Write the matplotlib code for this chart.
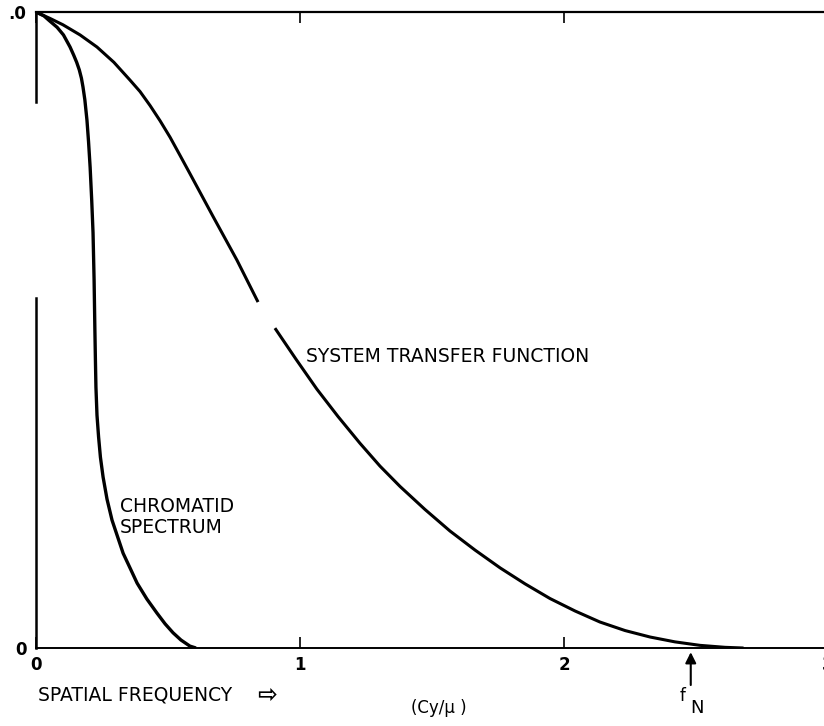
import numpy as np
import matplotlib
matplotlib.use('Agg')
import matplotlib.pyplot as plt

# system transfer function (nan = gap in the printed line)
stf_x = [0.0, 0.053, 0.102, 0.167, 0.231, 0.295, 0.356, 0.394, 0.432, 0.470,
         0.508, 0.545, 0.583, 0.670, 0.761, 0.841,
         np.nan,
         0.905, 0.985, 1.064, 1.144, 1.227, 1.303, 1.379, 1.473, 1.568, 1.663,
         1.758, 1.852, 1.947, 2.042, 2.136, 2.231, 2.326, 2.420, 2.515, 2.61,
         2.68]
stf_y = [1.0, 0.990, 0.980, 0.964, 0.945, 0.921, 0.893, 0.875, 0.853, 0.829,
         0.803, 0.775, 0.746, 0.679, 0.610, 0.544,
         np.nan,
         0.503, 0.454, 0.407, 0.364, 0.322, 0.286, 0.254, 0.218, 0.184, 0.154,
         0.126, 0.101, 0.0778, 0.0582, 0.0409, 0.0275, 0.0173, 0.0097, 0.0042, 0.0011,
         0.0]

# chromatid spectrum
chr_x = [0.0, 0.030, 0.049, 0.080, 0.104, 0.129, 0.143, 0.154, 0.164, 0.172,
         0.178, 0.185, 0.193, 0.199, 0.205, 0.211, 0.216, 0.220, 0.223, 0.225,
         0.227, 0.231, 0.237, 0.244, 0.254, 0.269, 0.288, 0.309, 0.330, 0.356,
         0.383, 0.420, 0.458, 0.489, 0.519, 0.549, 0.583, 0.606]
chr_y = [1.0, 0.994, 0.987, 0.976, 0.964, 0.945, 0.932, 0.921, 0.909, 0.896,
         0.882, 0.862, 0.830, 0.796, 0.756, 0.704, 0.653, 0.579, 0.500, 0.453,
         0.410, 0.366, 0.332, 0.300, 0.269, 0.234, 0.201, 0.175, 0.149, 0.126,
         0.102, 0.077, 0.055, 0.038, 0.024, 0.0126, 0.003, 0.0]

xticks = [0, 1, 2, 3]
xticklabels = ['0', '1', '2', '3']
yticks = [0, 1]
yticklabels = ['0', '.0']
f_nyquist = 2.48

fig = plt.figure(figsize=(8.24, 7.26), dpi=100)
ax = fig.add_axes([0.0437, 0.1074, 0.9612, 0.876])

ax.plot(stf_x, stf_y, color='black', lw=2.2, solid_capstyle='butt',
        solid_joinstyle='round')
ax.plot(chr_x, chr_y, color='black', lw=2.4, solid_capstyle='butt',
        solid_joinstyle='round')

ax.set_xlim(0, 3)
ax.set_ylim(0, 1)

for s in ['right', 'left']:
    ax.spines[s].set_visible(False)
ax.spines['top'].set_linewidth(1.6)
ax.spines['bottom'].set_linewidth(1.4)
# left axis line, broken in the original print
ax.axvline(0, ymin=0, ymax=0.55, color='black', lw=1.8, clip_on=False)
ax.axvline(0, ymin=0.858, ymax=1, color='black', lw=1.8, clip_on=False)

ax.set_xticks(xticks)
ax.set_xticklabels(xticklabels, fontsize=12, fontweight='bold')
ax.tick_params(axis='x', direction='in', length=8, width=1.2, top=True, pad=6)
ax.set_yticks(yticks)
ax.set_yticklabels(yticklabels, fontsize=12, fontweight='bold')
ax.tick_params(axis='y', length=0, pad=7)

ax.text(1.023, 0.45, 'SYSTEM TRANSFER FUNCTION', fontsize=13.5)
ax.text(0.317, 0.181, 'CHROMATID\nSPECTRUM', fontsize=13.5, linespacing=1.15)

fig.text(0.046, 0.0427, 'SPATIAL FREQUENCY', fontsize=13.5, va='center')
fig.text(0.312, 0.0427, '\u21e8', fontsize=17, va='center', fontweight='bold')
fig.text(0.533, 0.0248, '(Cy/\u03bc )', fontsize=12, va='center', ha='center')

# Nyquist frequency marker
ax.annotate('', xy=(f_nyquist, 0), xycoords='data',
            xytext=(0, -37), textcoords='offset pixels', annotation_clip=False,
            arrowprops=dict(arrowstyle='-|>', color='black', lw=1.5,
                            mutation_scale=16, shrinkA=0, shrinkB=3))
ax.annotate('f', xy=(f_nyquist, 0), xytext=(-8, -39), textcoords='offset pixels',
            ha='center', va='top', fontsize=12, annotation_clip=False)
ax.annotate('N', xy=(f_nyquist, 0), xytext=(6, -51), textcoords='offset pixels',
            ha='center', va='top', fontsize=13, annotation_clip=False)

fig.savefig('out.png', dpi=100)
